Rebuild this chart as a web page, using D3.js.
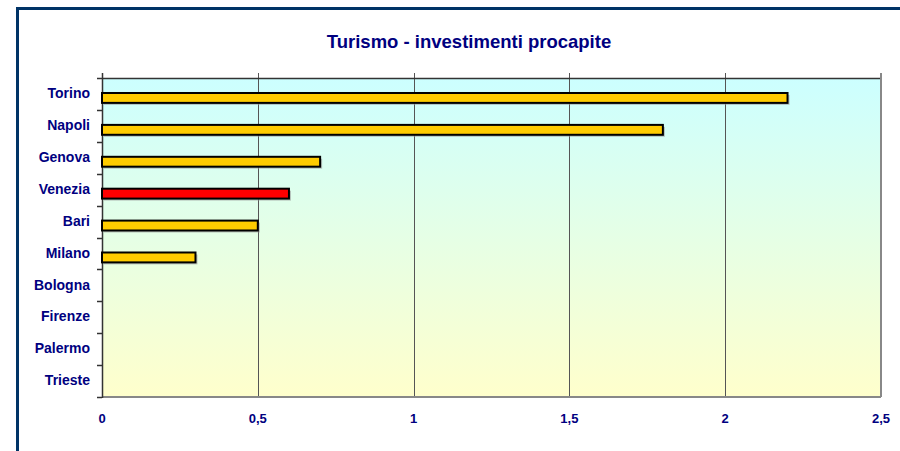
<!DOCTYPE html>
<html>
<head>
<meta charset="utf-8">
<script src="https://cdn.jsdelivr.net/npm/d3@7"></script>
<style>
  body { margin: 0; background: #fff; }
  svg { display: block; font-family: Arial, "Liberation Sans", sans-serif; }
</style>
</head>
<body>
<div id="chart"></div>
<script>
// data
var cities = ["Torino", "Napoli", "Genova", "Venezia", "Bari", "Milano", "Bologna", "Firenze", "Palermo", "Trieste"];
var values = [2.2, 1.8, 0.7, 0.6, 0.5, 0.3, 0, 0, 0, 0];
var highlighted = ["Venezia"];
var xTicks = [0, 0.5, 1, 1.5, 2, 2.5];
var xTickLabels = ["0", "0,5", "1", "1,5", "2", "2,5"];

var width = 900, height = 451;
var margin = {top: 78, right: 19, bottom: 54, left: 102};
var plotW = width - margin.left - margin.right,
    plotH = height - margin.top - margin.bottom;

var svg = d3.select("#chart").append("svg")
    .attr("width", width)
    .attr("height", height);

// outer frame
svg.append("path")
    .attr("d", "M17.5,451 V8.5 H900")
    .attr("fill", "none")
    .attr("stroke", "#003366")
    .attr("stroke-width", 3);

svg.append("text")
    .attr("x", 469)
    .attr("y", 48)
    .attr("text-anchor", "middle")
    .attr("font-size", "18.5px")
    .attr("font-weight", "bold")
    .attr("fill", "#000080")
    .text("Turismo - investimenti procapite");

var defs = svg.append("defs");
var grad = defs.append("linearGradient")
    .attr("id", "bg").attr("x1", 0).attr("y1", 0).attr("x2", 0).attr("y2", 1);
grad.append("stop").attr("offset", "0%").attr("stop-color", "#ccffff");
grad.append("stop").attr("offset", "100%").attr("stop-color", "#ffffcc");

var g = svg.append("g").attr("transform", "translate(" + margin.left + "," + margin.top + ")");

var x = d3.scaleLinear().domain([0, 2.5]).range([0, plotW]);
var y = d3.scaleBand().domain(cities).range([0, plotH]);

g.append("rect")
    .attr("width", plotW)
    .attr("height", plotH)
    .attr("fill", "url(#bg)");

// grid lines (go a little above the plot like tick marks)
g.selectAll(".grid")
    .data(xTicks.slice(1, -1))
    .enter().append("line")
    .attr("class", "grid")
    .attr("x1", d => Math.round(x(d)) + 0.5)
    .attr("x2", d => Math.round(x(d)) + 0.5)
    .attr("y1", -5)
    .attr("y2", plotH)
    .attr("stroke", "#555")
    .attr("stroke-width", 1);

// plot border: dark top/left, gray right/bottom
g.append("line").attr("x1", 0).attr("x2", plotW).attr("y1", 0.5).attr("y2", 0.5)
    .attr("stroke", "#333").attr("stroke-width", 1.5);
g.append("line").attr("x1", plotW).attr("x2", plotW).attr("y1", -5).attr("y2", plotH)
    .attr("stroke", "#888").attr("stroke-width", 2);
g.append("line").attr("x1", 0).attr("x2", plotW).attr("y1", plotH).attr("y2", plotH)
    .attr("stroke", "#888").attr("stroke-width", 2);
g.append("line").attr("x1", 0.5).attr("x2", 0.5).attr("y1", -5).attr("y2", plotH + 1)
    .attr("stroke", "#333").attr("stroke-width", 1.5);

// left tick marks at band edges
var edges = cities.map(c => y(c)).concat([plotH]);
g.selectAll(".ytick")
    .data(edges)
    .enter().append("line")
    .attr("x1", -5).attr("x2", 0)
    .attr("y1", d => Math.round(d) + 0.5)
    .attr("y2", d => Math.round(d) + 0.5)
    .attr("stroke", "#333")
    .attr("stroke-width", 1.5);

var bw = y.bandwidth();
var barY = c => y(c) + bw * 0.47;
var barH = bw * 0.31;

// bar shadows
g.selectAll(".shadow")
    .data(cities.filter((c, i) => values[i] > 0))
    .enter().append("rect")
    .attr("x", 2)
    .attr("y", c => barY(c) + 2)
    .attr("width", c => x(values[cities.indexOf(c)]))
    .attr("height", barH)
    .attr("fill", "#999")
    .attr("opacity", 0.6);

g.selectAll(".bar")
    .data(cities.filter((c, i) => values[i] > 0))
    .enter().append("rect")
    .attr("class", "bar")
    .attr("x", 0)
    .attr("y", c => barY(c))
    .attr("width", c => x(values[cities.indexOf(c)]))
    .attr("height", barH)
    .attr("fill", c => highlighted.indexOf(c) >= 0 ? "#ff0000" : "#ffcc00")
    .attr("stroke", "#000")
    .attr("stroke-width", 2);

// category labels
g.selectAll(".ylab")
    .data(cities)
    .enter().append("text")
    .attr("x", -12)
    .attr("y", c => y(c) + bw / 2)
    .attr("dy", "0.3em")
    .attr("text-anchor", "end")
    .attr("font-size", "14px")
    .attr("font-weight", "bold")
    .attr("fill", "#000080")
    .text(c => c);

// x tick labels
g.selectAll(".xlab")
    .data(xTicks)
    .enter().append("text")
    .attr("x", d => x(d))
    .attr("y", plotH + 26)
    .attr("text-anchor", "middle")
    .attr("font-size", "13px")
    .attr("font-weight", "bold")
    .attr("fill", "#000080")
    .text((d, i) => xTickLabels[i]);
</script>
</body>
</html>
